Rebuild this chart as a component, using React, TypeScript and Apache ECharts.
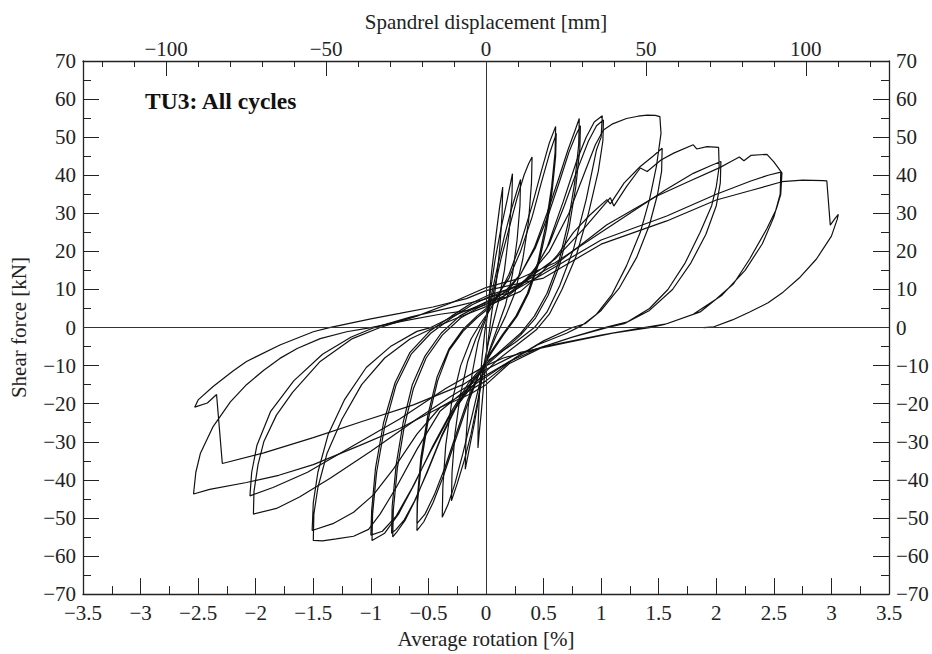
import React, { useEffect, useRef } from 'react';
import * as echarts from 'echarts';

// Average rotation [%] vs shear force [kN]
const cycle01: number[][] = [
  [0, 0], [0.02, 6], [0.05, 15], [0.09, 25], [0.12, 32], [0.145, 36.9], [0.14, 30], [0.12, 21], [0.09, 12], [0.05, 4],
  [0.02, -3], [0, -8], [-0.02, -15], [-0.04, -22], [-0.06, -28], [-0.07, -31.6], [-0.068, -25], [-0.055, -16], [-0.035, -8],
  [-0.01, -1], [0.01, 3],
];
const cycle02: number[][] = [
  [0.01, 3], [0.04, 10], [0.08, 18], [0.13, 26], [0.18, 33], [0.21, 37.5], [0.23, 40.4], [0.225, 34], [0.2, 25], [0.16, 15],
  [0.11, 7], [0.06, 1], [0.02, -4], [-0.02, -10], [-0.06, -18], [-0.1, -25], [-0.14, -31], [-0.18, -37.2], [-0.175, -30],
  [-0.155, -21], [-0.12, -12], [-0.07, -4], [-0.03, 0], [0.01, 3],
];
const cycle03: number[][] = [
  [0.01, 3], [0.05, 9], [0.1, 16], [0.16, 24], [0.22, 31], [0.27, 36], [0.3, 38.9], [0.295, 32], [0.27, 23], [0.23, 14],
  [0.17, 6], [0.1, 0], [0.04, -5], [-0.02, -11], [-0.07, -19], [-0.13, -28], [-0.19, -35], [-0.25, -41], [-0.3, -45.5],
  [-0.295, -38], [-0.27, -28], [-0.225, -18], [-0.16, -9], [-0.09, -3], [-0.03, 1], [0.02, 4],
];
const cycle04: number[][] = [
  [0.02, 4], [0.07, 10], [0.13, 18], [0.2, 26], [0.27, 34], [0.33, 40], [0.37, 43], [0.4, 44.8], [0.395, 38], [0.37, 28],
  [0.32, 18], [0.25, 9], [0.17, 3], [0.09, -2], [0.02, -7], [-0.05, -14], [-0.12, -23], [-0.2, -33], [-0.27, -41],
  [-0.33, -46.5], [-0.38, -49.8], [-0.375, -42], [-0.35, -31], [-0.3, -20], [-0.22, -10], [-0.13, -3], [-0.05, 1], [0.02, 4],
];
const cycle05: number[][] = [
  [0.02, 4], [0.1, 8], [0.2, 14], [0.3, 22], [0.4, 32], [0.48, 41], [0.55, 48.5], [0.605, 52.8], [0.6, 46], [0.57, 37],
  [0.52, 27], [0.45, 17], [0.36, 9], [0.26, 3], [0.14, -2], [0.03, -7], [-0.07, -13], [-0.17, -21], [-0.27, -30],
  [-0.37, -39], [-0.46, -46], [-0.54, -51], [-0.6, -53.3], [-0.595, -46], [-0.56, -35], [-0.5, -24], [-0.42, -14],
  [-0.32, -6], [-0.2, -1], [-0.08, 2.5], [0.02, 5],
  [0.1, 8.5], [0.2, 13], [0.3, 20], [0.4, 29], [0.48, 38], [0.55, 45.5], [0.6, 50], [0.61, 51], [0.605, 45], [0.575, 36],
  [0.525, 26], [0.46, 17], [0.37, 9], [0.27, 3], [0.15, -2], [0.04, -7], [-0.06, -12], [-0.16, -19], [-0.26, -28],
  [-0.36, -37], [-0.45, -44], [-0.53, -49], [-0.6, -51.5], [-0.597, -45], [-0.565, -34], [-0.505, -23], [-0.425, -13],
  [-0.32, -5.5], [-0.2, -0.5], [-0.08, 3], [0.02, 5.5],
];
const cycle06: number[][] = [
  [0.02, 5.5], [0.15, 8], [0.3, 14], [0.42, 21], [0.53, 30], [0.63, 39], [0.71, 46.5], [0.77, 51.5], [0.81, 54.9],
  [0.805, 48], [0.77, 38], [0.71, 27], [0.63, 17], [0.53, 9], [0.42, 3], [0.3, -1.5], [0.15, -5.5], [0, -9.5],
  [-0.12, -14], [-0.25, -20], [-0.38, -28], [-0.5, -37], [-0.61, -45], [-0.7, -50.5], [-0.77, -53.5], [-0.81, -55],
  [-0.805, -48], [-0.77, -37], [-0.71, -26], [-0.63, -16], [-0.52, -8], [-0.38, -2], [-0.22, 2.5], [-0.08, 5], [0.02, 6.5],
  [0.15, 9], [0.3, 14], [0.43, 21], [0.54, 29.5], [0.64, 38.5], [0.72, 46], [0.78, 50.5], [0.82, 53], [0.815, 47],
  [0.78, 37], [0.72, 26], [0.64, 16.5], [0.54, 8.5], [0.43, 2.5], [0.3, -2], [0.15, -6], [0, -10], [-0.12, -14.5],
  [-0.26, -21], [-0.39, -29], [-0.51, -38], [-0.62, -45.5], [-0.71, -50.5], [-0.78, -53], [-0.82, -54], [-0.815, -47],
  [-0.78, -36], [-0.72, -25], [-0.64, -15], [-0.53, -7.5], [-0.39, -1.5], [-0.23, 3], [-0.08, 5.5], [0.02, 7],
];
const cycle07: number[][] = [
  [0.02, 7], [0.18, 8], [0.38, 13], [0.53, 21], [0.67, 33], [0.79, 44], [0.87, 50], [0.94, 54], [1.01, 55.6], [1.0, 50],
  [0.96, 46.7], [0.87, 33.6], [0.76, 20.6], [0.64, 11], [0.53, 4.1], [0.42, 0], [0.25, -4], [0.1, -7], [0, -9],
  [-0.15, -14.5], [-0.3, -22], [-0.46, -31], [-0.62, -41], [-0.76, -49], [-0.88, -54], [-0.99, -55.9], [-0.985, -49],
  [-0.95, -38], [-0.88, -26], [-0.78, -15], [-0.65, -7], [-0.48, -1.5], [-0.3, 2.5], [-0.12, 6], [0.02, 8],
  [0.2, 9], [0.4, 14], [0.55, 22], [0.68, 32], [0.8, 42], [0.89, 49], [0.96, 53], [1.02, 54.5], [1.015, 49], [0.975, 41],
  [0.89, 30], [0.78, 18.5], [0.66, 10], [0.55, 3.5], [0.44, -0.5], [0.27, -4.5], [0.1, -8.5], [0, -11.5], [-0.15, -16.5],
  [-0.31, -23], [-0.48, -32.5], [-0.64, -42], [-0.78, -49.5], [-0.9, -53.5], [-1.0, -54.5], [-0.993, -48], [-0.96, -37],
  [-0.89, -25], [-0.79, -14.5], [-0.66, -6.5], [-0.49, -1], [-0.3, 3], [-0.12, 6.5], [0.02, 8.5],
];
const cycle08: number[][] = [
  [0.02, 8.5], [0.3, 11], [0.55, 20], [0.72, 30], [0.86, 41], [0.95, 48], [1.02, 51.9], [1.1, 53.5], [1.22, 54.9],
  [1.32, 55.5], [1.4, 55.8], [1.47, 55.7], [1.51, 55.4], [1.52, 51], [1.48, 42.3], [1.42, 33.6], [1.34, 25], [1.22, 16.2],
  [1.09, 8.5], [0.96, 3.5], [0.83, 0.5], [0.7, -1.5], [0.45, -4.5], [0.2, -9], [0, -13], [-0.2, -17], [-0.4, -22],
  [-0.6, -32], [-0.78, -42], [-0.92, -49], [-1.02, -53], [-1.15, -54.8], [-1.3, -55.5], [-1.42, -56], [-1.5, -55.9],
  [-1.495, -49], [-1.46, -42], [-1.38, -33], [-1.25, -24], [-1.08, -15], [-0.88, -8], [-0.66, -3], [-0.45, 0],
  [-0.25, 2.5], [0, 5.5],
  [0.3, 9.5], [0.47, 14], [0.62, 19], [0.76, 25], [0.9, 29.5], [1.05, 33.6], [1.08, 32.5], [1.2, 38], [1.34, 42.3],
  [1.45, 45], [1.53, 47.1], [1.525, 41], [1.49, 35], [1.42, 27], [1.31, 18.5], [1.16, 10.5], [1.0, 4.5], [0.86, 1],
  [0.75, 0], [0.5, -3.5], [0.25, -8], [0, -14], [-0.2, -17.5], [-0.4, -21], [-0.6, -28], [-0.8, -37], [-0.98, -44],
  [-1.15, -48.5], [-1.33, -51.5], [-1.51, -53.3], [-1.5, -46], [-1.46, -38], [-1.37, -28], [-1.23, -19], [-1.04, -10.5],
  [-0.83, -5], [-0.6, -1], [-0.48, 0], [-0.25, 3.5], [0, 6.5],
];
const cycle09: number[][] = [
  [0, 6.5], [0.3, 11.5], [0.6, 18], [0.85, 26], [1.08, 34.1], [1.11, 31.9], [1.22, 37], [1.34, 41.9], [1.4, 41],
  [1.52, 44], [1.63, 45.8], [1.8, 48], [1.83, 46.9], [1.92, 47.5], [2.02, 47.3], [2.025, 42.3], [2.0, 37], [1.96, 32],
  [1.86, 25], [1.73, 17], [1.58, 10], [1.42, 5], [1.23, 1.5], [1.03, 0], [0.75, -2.5], [0.45, -5.5], [0.2, -9],
  [0, -12.5], [-0.3, -18], [-0.6, -24], [-1.0, -32.5], [-1.35, -39.5], [-1.62, -44.5], [-1.82, -47.5], [-2.02, -49],
  [-2.015, -43], [-1.98, -36], [-1.93, -30], [-1.82, -23], [-1.68, -17], [-1.44, -8.9], [-1.16, -2.9], [-0.92, 0],
  [-0.6, 3], [-0.3, 6.5], [0, 10.5],
  [0.3, 13], [0.6, 17], [1.0, 25], [1.3, 31], [1.55, 36], [1.8, 40.5], [1.95, 42.5], [2.04, 43.6], [2.035, 38],
  [2.0, 32], [1.91, 24.5], [1.78, 17], [1.62, 10], [1.42, 4.5], [1.2, 1], [1.05, 0], [0.75, -2.5], [0.4, -6],
  [0.15, -8], [0, -10], [-0.35, -16], [-0.75, -24], [-1.15, -31], [-1.55, -38], [-1.85, -42], [-2.05, -44.2],
  [-2.035, -38], [-1.99, -31], [-1.87, -22], [-1.67, -14], [-1.42, -7], [-1.17, -2.5], [-0.97, 0], [-0.65, 2.8],
  [-0.3, 5.3], [0, 7.5],
];
const cycle10: number[][] = [
  [0, 7.5], [0.3, 11.5], [0.6, 16.5], [1.05, 27], [1.48, 34.5], [1.77, 38.5], [2.03, 42], [2.12, 43.5], [2.2, 44.8],
  [2.24, 43.8], [2.3, 45.2], [2.44, 45.5], [2.5, 43.5], [2.57, 40.6], [2.56, 35], [2.52, 31], [2.44, 26], [2.29, 18],
  [2.15, 11.5], [2.0, 7.5], [1.86, 4.1], [1.57, 1], [1.37, 0], [1.0, -2], [0.5, -5], [0.2, -9.5], [0, -15], [-0.14, -17.5],
  [-0.4, -21], [-0.75, -26.5], [-1.1, -31], [-1.5, -36], [-1.8, -38.8], [-2.08, -40.7], [-2.4, -42.5], [-2.54, -43.7],
  [-2.52, -38], [-2.48, -33], [-2.37, -26], [-2.22, -19.5], [-2.08, -15], [-1.93, -11.2], [-1.79, -8.1], [-1.64, -5.5],
  [-1.44, -2.9], [-1.21, -1.1], [-1.0, 0], [-0.7, 1.8], [-0.4, 3.5], [-0.15, 4.5], [0, 6],
  [0.2, 9], [0.47, 13.6], [1.0, 23], [1.57, 29.3], [2.0, 35], [2.3, 38.5], [2.45, 40], [2.56, 40.8], [2.555, 35],
  [2.5, 29], [2.4, 22], [2.25, 15], [2.05, 8.5], [1.8, 3.5], [1.55, 0.8], [1.42, 0], [1.1, -1.5], [0.7, -4], [0.3, -6.5],
  [0, -11], [-0.2, -15], [-0.63, -20.3], [-1.07, -24.6], [-1.5, -28.9], [-1.93, -32.9], [-2.29, -35.7], [-2.34, -17.6],
  [-2.42, -19.8], [-2.53, -20.9], [-2.5, -19], [-2.37, -15.5], [-2.2, -11.5], [-2.08, -8.9], [-1.79, -4.6], [-1.5, -1.1],
  [-1.36, 0], [-1.0, 2.3], [-0.75, 3.7], [-0.46, 5.4], [-0.17, 7.6], [0, 9.7],
];
const cycle11: number[][] = [
  [0, 9.7], [0.5, 13], [1.0, 21.9], [1.57, 28], [2.0, 33.5], [2.3, 36], [2.57, 38.3], [2.75, 38.7], [2.93, 38.6],
  [2.96, 38.5], [2.99, 26.9], [3.03, 28.6], [3.06, 29.7], [3.05, 28.4], [3.0, 24], [2.87, 18], [2.72, 13], [2.58, 9.3],
  [2.45, 6.5], [2.29, 4.1], [2.14, 2], [1.98, 0.2], [1.89, 0],
];

const cycles = [cycle01, cycle02, cycle03, cycle04, cycle05, cycle06, cycle07, cycle08, cycle09, cycle10, cycle11];

const displacementLabels = [-100, -50, 0, 50, 100];
const displacementMinor = [-120, -110, -90, -80, -70, -60, -40, -30, -20, -10, 10, 20, 30, 40, 60, 70, 80, 90, 110, 120];

const FONT = '"Liberation Serif", "Times New Roman", serif';
const INK = '#222';
const minus = (v: number) => String(v).replace('-', '\u2212');

export default function App() {
  const ref = useRef<HTMLDivElement>(null);
  useEffect(() => {
    if (!ref.current) return;
    const chart = echarts.init(ref.current, null, { renderer: 'svg' });
    const axisLine = { show: true, onZero: false, lineStyle: { color: INK, width: 1.3 } };
    const labelStyle = { fontFamily: FONT, fontSize: 21, color: INK };
    chart.setOption({
      animation: false,
      backgroundColor: '#fff',
      title: {
        text: 'TU3: All cycles',
        left: 140,
        top: 84,
        textStyle: { fontFamily: FONT, fontSize: 23.5, fontWeight: 'bold', color: '#111' },
      },
      grid: { left: 83, right: 43, top: 61, bottom: 57 },
      xAxis: [
        {
          type: 'value', position: 'bottom', min: -3.5, max: 3.5, interval: 0.5,
          name: 'Average rotation [%]', nameLocation: 'middle', nameGap: 33,
          nameTextStyle: { fontFamily: FONT, fontSize: 21, color: INK },
          axisLine, splitLine: { show: false },
          axisTick: { inside: true, length: 16, lineStyle: { color: INK } },
          minorTick: { show: true, splitNumber: 2, length: 8, lineStyle: { color: INK } },
          axisLabel: { ...labelStyle, margin: 8, formatter: minus },
        },
        {
          type: 'value', position: 'top', min: -126, max: 126,
          name: 'Spandrel displacement [mm]', nameLocation: 'middle', nameGap: 29,
          nameTextStyle: { fontFamily: FONT, fontSize: 21, color: INK },
          axisLine, splitLine: { show: false },
          axisTick: { inside: true, length: 15, customValues: displacementLabels, lineStyle: { color: INK } },
          axisLabel: { ...labelStyle, margin: 2, customValues: displacementLabels, formatter: minus },
        },
        {
          type: 'value', position: 'top', min: -126, max: 126,
          axisLine: { show: false, onZero: false }, splitLine: { show: false },
          axisTick: { inside: true, length: 6, customValues: displacementMinor, lineStyle: { color: INK } },
          axisLabel: { show: false },
        },
      ],
      yAxis: [
        {
          type: 'value', position: 'left', min: -70, max: 70, interval: 10,
          name: 'Shear force [kN]', nameLocation: 'middle', nameGap: 54, nameRotate: 90,
          nameTextStyle: { fontFamily: FONT, fontSize: 21, color: INK },
          axisLine, splitLine: { show: false },
          axisTick: { inside: true, length: 16, lineStyle: { color: INK } },
          minorTick: { show: true, splitNumber: 2, length: 8, lineStyle: { color: INK } },
          axisLabel: { ...labelStyle, margin: 7, formatter: minus },
        },
        {
          type: 'value', position: 'right', min: -70, max: 70, interval: 10,
          axisLine, splitLine: { show: false },
          axisTick: { inside: true, length: 16, lineStyle: { color: INK } },
          minorTick: { show: true, splitNumber: 2, length: 8, lineStyle: { color: INK } },
          axisLabel: { ...labelStyle, margin: 7, formatter: minus },
        },
      ],
      series: cycles.map((data, i) => ({
        type: 'line',
        xAxisIndex: 0,
        yAxisIndex: 0,
        data,
        showSymbol: false,
        symbol: 'none',
        lineStyle: { color: '#111', width: 1.2 },
        silent: true,
        z: 3,
        markLine: i === 0 ? {
          silent: true,
          symbol: ['none', 'none'],
          label: { show: false },
          lineStyle: { color: '#333', width: 1, type: 'solid' },
          data: [{ xAxis: 0 }, { yAxis: 0 }],
        } : undefined,
      })),
    });
    return () => chart.dispose();
  }, []);
  return (
    <div
      ref={ref}
      style={{ position: 'fixed', left: 0, top: 0, width: 932, height: 654, background: '#fff' }}
    />
  );
}
